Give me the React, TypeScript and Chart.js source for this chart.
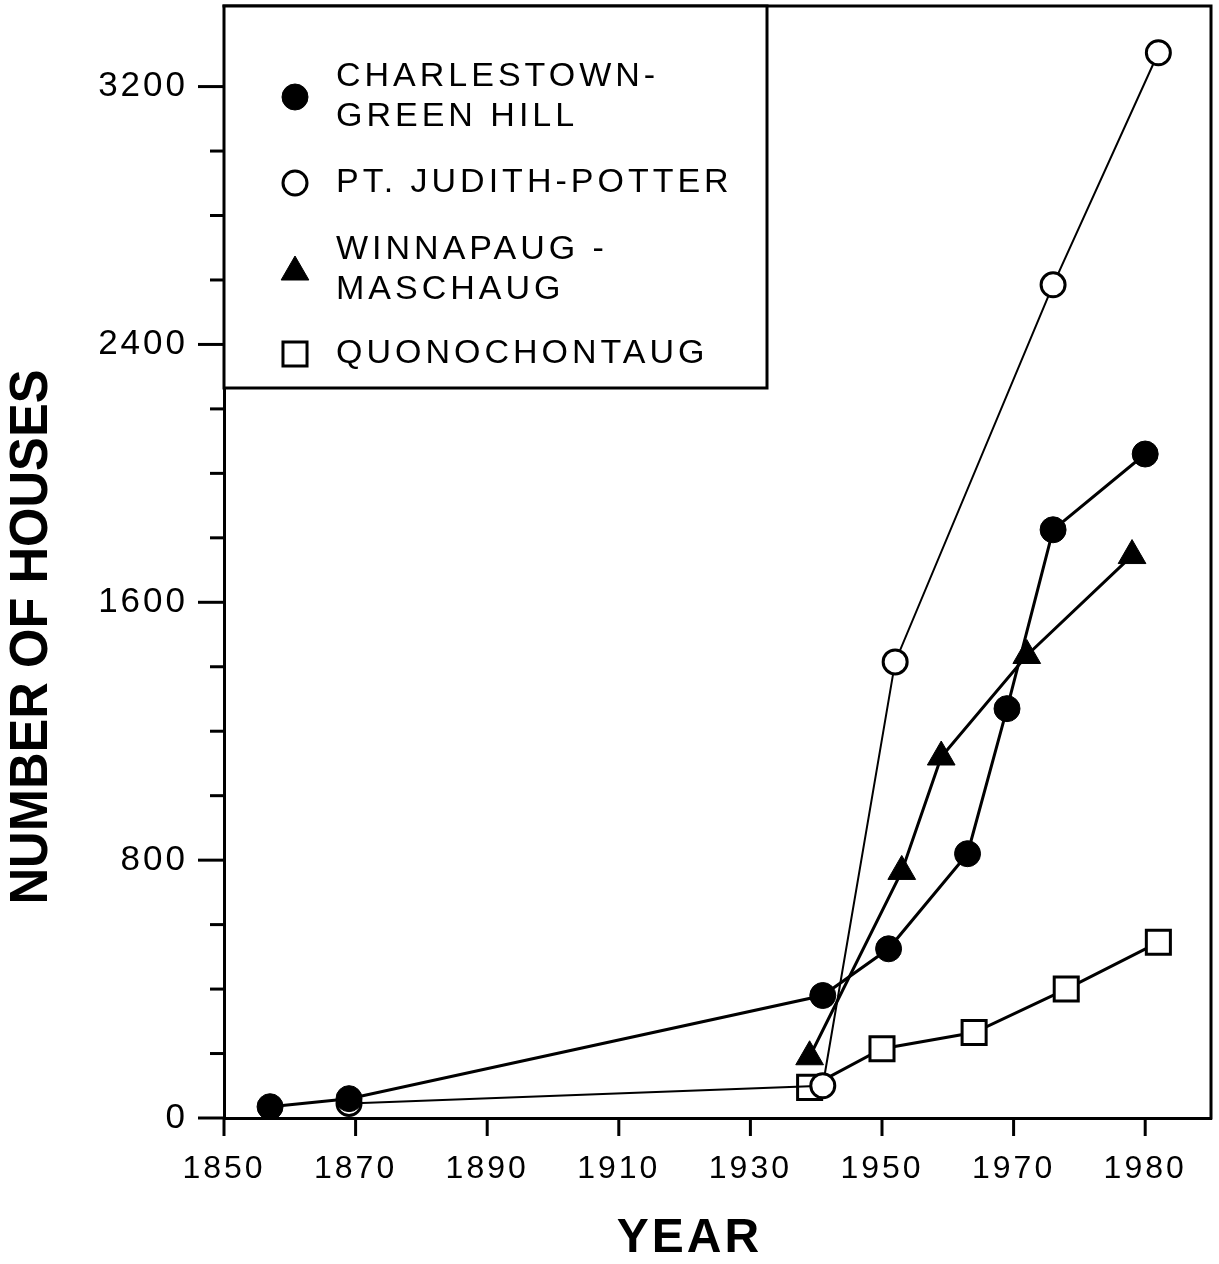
import React, { useEffect, useRef } from 'react';
import { Chart, registerables } from 'chart.js';
import { drawPoint } from 'chart.js/helpers';

Chart.register(...registerables);

// ---------- data ----------
const seriesLabels = [
  ['CHARLESTOWN-', 'GREEN HILL'],
  ['PT. JUDITH-POTTER'],
  ['WINNAPAUG -', 'MASCHAUG'],
  ['QUONOCHONTAUG'],
];
const charlestownYears = [1857, 1869, 1941, 1951, 1963, 1969, 1973, 1980];
const charlestownHouses = [35, 60, 380, 525, 820, 1270, 1825, 2060];
const judithYears = [1869, 1941, 1952, 1973, 1981];
const judithHouses = [45, 100, 1415, 2585, 3305];
const winnapaugYears = [1939, 1953, 1959, 1971, 1979];
const winnapaugHouses = [190, 765, 1120, 1435, 1745];
const quonYears = [1939, 1950, 1964, 1974, 1981];
const quonHouses = [95, 215, 265, 400, 545];

const xTickYears = [1850, 1870, 1890, 1910, 1930, 1950, 1970, 1980];
const yTickLabels = [0, 800, 1600, 2400, 3200];
const yMinorStep = 200;
const xAxisTitle = 'YEAR';
const yAxisTitle = 'NUMBER OF HOUSES';

// The original axis changes step after 1970 (one decade per tick instead of two)
const BREAK_YEAR = 1970;
const toAxis = (yr: number) => (yr <= BREAK_YEAR ? yr : BREAK_YEAR + (yr - BREAK_YEAR) * 2);
const fromAxis = (v: number) => (v <= BREAK_YEAR ? v : BREAK_YEAR + (v - BREAK_YEAR) / 2);

const pts = (years: number[], vals: number[]) => years.map((yr, i) => ({ x: toAxis(yr), y: vals[i] }));

const FONT = "'Liberation Sans', Arial, sans-serif";

const framePlugin = {
  id: 'frameAndExtras',
  beforeDraw(chart: any) {
    (chart.ctx as any).letterSpacing = '3px';
  },
  afterDraw(chart: any) {
    const ctx = chart.ctx;
    const { left, right, top, bottom } = chart.chartArea;
    const xs = chart.scales.x;
    const ys = chart.scales.y;
    ctx.save();
    ctx.strokeStyle = '#000';
    ctx.lineWidth = 3;
    ctx.lineCap = 'butt';
    // top and right frame
    ctx.beginPath();
    ctx.moveTo(left - 1.5, top);
    ctx.lineTo(right, top);
    ctx.lineTo(right, bottom + 1.5);
    ctx.stroke();
    // y tick marks
    ys.ticks.forEach((t: any) => {
      const py = ys.getPixelForValue(t.value);
      const len = yTickLabels.includes(t.value) ? 26 : 14;
      ctx.beginPath();
      ctx.moveTo(left - len, py);
      ctx.lineTo(left, py);
      ctx.stroke();
    });
    // x tick marks
    xs.ticks.forEach((t: any) => {
      const px = xs.getPixelForValue(t.value);
      ctx.beginPath();
      ctx.moveTo(px, bottom);
      ctx.lineTo(px, bottom + 18);
      ctx.stroke();
    });

    // legend box
    const bw = 543;
    const bh = 382;
    ctx.fillStyle = '#fff';
    ctx.fillRect(left, top, bw, bh);
    ctx.strokeRect(left, top, bw, bh);
    const rows = [
      { marker: 91, lines: [71, 111] },
      { marker: 177, lines: [177] },
      { marker: 266, lines: [244, 284] },
      { marker: 348, lines: [348] },
    ];
    ctx.font = `34px ${FONT}`;
    ctx.textBaseline = 'middle';
    ctx.textAlign = 'left';
    (ctx as any).letterSpacing = '4px';
    chart.data.datasets.forEach((ds: any, i: number) => {
      const r = rows[i];
      ctx.fillStyle = ds.pointBackgroundColor;
      ctx.strokeStyle = ds.pointBorderColor;
      ctx.lineWidth = ds.pointBorderWidth;
      drawPoint(ctx, {
        pointStyle: ds.pointStyle,
        radius: ds.pointRadius,
        rotation: 0,
        borderWidth: ds.pointBorderWidth,
      }, left + 71, top + r.marker);
      ctx.fillStyle = '#000';
      seriesLabels[i].forEach((line, j) => {
        ctx.fillText(line, left + 112, top + r.lines[j]);
      });
    });

    // axis titles
    ctx.fillStyle = '#000';
    ctx.font = `bold 48px ${FONT}`;
    (ctx as any).letterSpacing = '3px';
    ctx.textAlign = 'center';
    ctx.textBaseline = 'middle';
    ctx.fillText(xAxisTitle, (left + right) / 2 - 28, bottom + 121);

    ctx.translate(32, (top + bottom) / 2 + 75);
    ctx.rotate(-Math.PI / 2);
    ctx.font = `bold 54px ${FONT}`;
    (ctx as any).letterSpacing = '0px';
    ctx.fillText(yAxisTitle, 0, 0, 535);
    ctx.restore();
    (ctx as any).letterSpacing = '0px';
  },
};

export default function App() {
  const ref = useRef<HTMLCanvasElement | null>(null);

  useEffect(() => {
    if (!ref.current) return;
    const common = { tension: 0, borderColor: '#000', pointBorderColor: '#000', pointHoverRadius: 0 };
    const chart = new Chart(ref.current, {
      type: 'line',
      data: {
        datasets: [
          {
            ...common,
            label: seriesLabels[0].join(' '),
            data: pts(charlestownYears, charlestownHouses),
            borderWidth: 3,
            pointStyle: 'circle',
            pointRadius: 13,
            pointBackgroundColor: '#000',
            pointBorderWidth: 1,
          },
          {
            ...common,
            label: seriesLabels[1].join(' '),
            data: pts(judithYears, judithHouses),
            borderWidth: 2,
            pointStyle: 'circle',
            pointRadius: 12,
            pointBackgroundColor: '#fff',
            pointBorderWidth: 3,
          },
          {
            ...common,
            label: seriesLabels[2].join(' '),
            data: pts(winnapaugYears, winnapaugHouses),
            borderWidth: 3,
            pointStyle: 'triangle',
            pointRadius: 16,
            pointBackgroundColor: '#000',
            pointBorderWidth: 1,
          },
          {
            ...common,
            label: seriesLabels[3].join(' '),
            data: pts(quonYears, quonHouses),
            borderWidth: 3,
            pointStyle: 'rect',
            pointRadius: 17,
            pointBackgroundColor: '#fff',
            pointBorderWidth: 3,
          },
        ],
      },
      options: {
        animation: false,
        responsive: false,
        devicePixelRatio: 1,
        events: [],
        layout: { autoPadding: false, padding: { top: 6, right: 8, left: 0, bottom: 0 } },
        plugins: { legend: { display: false }, tooltip: { enabled: false }, title: { display: false } },
        scales: {
          x: {
            type: 'linear',
            min: toAxis(1850),
            max: toAxis(1985),
            afterBuildTicks: (scale: any) => {
              scale.ticks = xTickYears.map((yr) => ({ value: toAxis(yr) }));
            },
            afterFit: (scale: any) => {
              scale.height = 146;
              scale.paddingLeft = 0;
              scale.paddingRight = 0;
            },
            ticks: {
              autoSkip: false,
              maxRotation: 0,
              color: '#000',
              padding: 14,
              font: { family: FONT, size: 32 },
              callback: (v: any) => String(Math.round(fromAxis(Number(v)))),
            },
            grid: { display: true, drawOnChartArea: false, drawTicks: true, tickLength: 18, tickColor: 'rgba(0,0,0,0)' },
            border: { display: true, color: '#000', width: 3 },
          },
          y: {
            type: 'linear',
            min: 0,
            max: 3450,
            afterBuildTicks: (scale: any) => {
              scale.ticks = scale.ticks.filter((t: any) => t.value % yMinorStep === 0);
            },
            afterFit: (scale: any) => {
              scale.width = 224;
              scale.paddingTop = 0;
              scale.paddingBottom = 0;
            },
            ticks: {
              stepSize: yMinorStep,
              autoSkip: false,
              color: '#000',
              padding: 10,
              font: { family: FONT, size: 35 },
              callback: (v: any) => (yTickLabels.includes(Number(v)) ? String(v) : ''),
            },
            grid: { display: true, drawOnChartArea: false, drawTicks: true, tickLength: 26, tickColor: 'rgba(0,0,0,0)' },
            border: { display: true, color: '#000', width: 3 },
          },
        },
      },
      plugins: [framePlugin],
    } as any);
    return () => chart.destroy();
  }, []);

  return (
    <div style={{ position: 'absolute', left: 0, top: 0, width: 1219, height: 1264, background: '#fff' }}>
      <canvas ref={ref} width={1219} height={1264} style={{ display: 'block' }} />
    </div>
  );
}
